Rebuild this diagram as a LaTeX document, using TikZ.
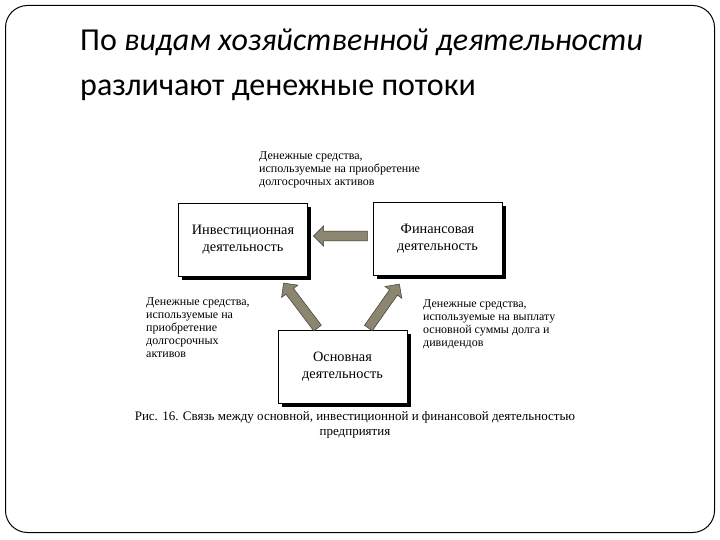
\documentclass[tikz,border=0pt]{standalone}
\usepackage{fontspec}
\setmainfont{Liberation Serif}
\newfontfamily\titlefont{Carlito}
\usetikzlibrary{shapes.arrows,calc,shadows}
\definecolor{arrowfill}{RGB}{140,134,112}
\definecolor{arrowline}{RGB}{60,60,52}
\newcommand\fatarrow[2]{%
  \path let \p1=(#1), \p2=(#2),
    \n1={atan2(\y2-\y1,\x2-\x1)}, \n2={veclen(\x2-\x1,\y2-\y1)} in
    node[fatarrowshape, rotate=\n1, minimum height=\n2] at ($(#1)!0.5!(#2)$) {};}
\begin{document}
\begin{tikzpicture}[x=1pt,y=-1pt,
  titletext/.style={anchor=base west, inner sep=0, font=\titlefont\fontsize{32}{38}\selectfont},
  actbox/.style={draw=black, line width=0.7pt, fill=white, minimum width=129pt, minimum height=73pt,
    align=center, inner sep=0, font=\fontsize{14.3}{17}\selectfont,
    general shadow={fill=black, shadow xshift=3.5pt, shadow yshift=-3.5pt}},
  note/.style={anchor=north west, align=left, inner sep=0, font=\fontsize{12}{13.2}\selectfont},
  caption/.style={align=center, inner sep=0, font=\fontsize{13}{15}\selectfont},
  fatarrowshape/.style={single arrow, draw=arrowline, fill=arrowfill, line width=0.5pt,
    inner xsep=0pt, inner ysep=4.5pt, single arrow head extend=5.5pt, single arrow tip angle=90}
]
\useasboundingbox[fill=white] (0,0) rectangle (720,540);
\draw[line width=1pt, rounded corners=22pt] (5.5,5.5) rectangle (714.5,532.5);

\node[titletext] (t1) at (80,51) {По \textit{видам хозяйственной деятельности}};
\node[titletext] (t2) at (80,96) {различают денежные потоки};

\node[actbox] (inv) at (243,240) {Инвестиционная\\деятельность};
\node[actbox] (fin) at (437.5,239) {Финансовая\\деятельность};
\node[actbox] (osn) at (342.5,367) {Основная\\деятельность};

\node[note] (n1) at (259,151) {Денежные средства,\\используемые на приобретение\\долгосрочных активов};
\node[note] (n2) at (146,297) {Денежные средства,\\используемые на\\приобретение\\долгосрочных\\активов};
\node[note] (n3) at (423,299) {Денежные средства,\\используемые на выплату\\основной суммы долга и\\дивидендов};

\node[caption] (cap) at (355,424.5) {Рис. 16. Связь между основной, инвестиционной и финансовой деятельностью\\предприятия};

\coordinate (a1s) at ($(fin.west)+(-3,-3)$);
\coordinate (a1e) at ($(inv.east)+(8,-4)$);
\coordinate (a2s) at (319,330);
\coordinate (a2e) at (285,285);
\coordinate (a3s) at (367,330);
\coordinate (a3e) at (398,286);
\fatarrow{a1s}{a1e}
\fatarrow{a2s}{a2e}
\fatarrow{a3s}{a3e}
\end{tikzpicture}
\end{document}
